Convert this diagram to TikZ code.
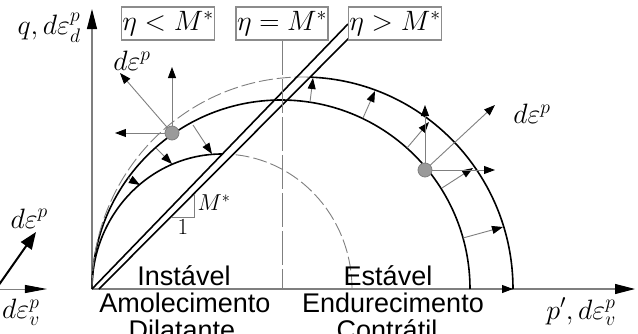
\RequirePackage{fix-cm}
\documentclass[tikz,border=0pt]{standalone}
\usepackage{amsmath}
\usepackage{fontspec}
\usetikzlibrary{arrows.meta,positioning}
\newfontfamily\labelsans{Liberation Sans}
\definecolor{axisgray}{HTML}{7F7F7F}
\definecolor{boxgray}{HTML}{8C8C8C}
\definecolor{dotgray}{HTML}{9A9A9A}

\begin{document}
\begin{tikzpicture}[x=1pt, y=1pt,
    axisline/.style={draw=axisgray, line width=1.1pt,
                 -{Triangle[length=20pt,width=10pt,color=black]}},
    yieldcurve/.style={draw=black, line width=1.6pt},
    ghostcurve/.style={draw=axisgray, line width=0.9pt, dash pattern=on 14pt off 4pt},
    ghostline/.style={draw=axisgray, line width=0.9pt, dash pattern=on 34pt off 4pt},
    flowarrow/.style={draw=axisgray, line width=0.9pt,
                 -{Triangle[length=11pt,width=8pt,color=black]}},
    thickvector/.style={draw=black, line width=2pt,
                 -{Triangle[length=17pt,width=13pt]}},
    ratiobox/.style={draw=boxgray, line width=1.6pt, fill=white, minimum width=90pt,
                 minimum height=33pt, inner sep=1pt, font=\fontsize{28}{28}\selectfont},
    regionlabel/.style={font=\labelsans\fontsize{27}{27}\selectfont, inner sep=0pt},
    mathlabel/.style={font=\fontsize{28}{28}\selectfont, inner sep=0pt},
    smalllabel/.style={font=\fontsize{23}{23}\selectfont, inner sep=0pt},
    statedot/.style={circle, fill=dotgray, draw=axisgray, line width=0.8pt,
                 minimum size=14pt, inner sep=0pt},
  ]
  \useasboundingbox (-92,-44) rectangle (546,289);
  \clip (-92,-44) rectangle (546,289);

  % inset at the left edge
  \coordinate (insetO) at (-96,0);
  \coordinate (insetX) at (-45,0);
  \coordinate (insetV) at (-56,57);
  \draw[flowarrow, -{Triangle[length=22pt,width=8pt,color=black]}] (insetO) -- (insetX);
  \draw[thickvector] (insetO) -- (insetV);
  \node[mathlabel, anchor=base east] (insetdeps) at (-44,61) {$d\varepsilon^p$};
  \node[mathlabel, anchor=north east] (insetdepsv) at (-52,-10) {$d\varepsilon_v^p$};

  % axes
  \coordinate (O) at (0,0);
  \draw[axisline] (O) -- (0,280);
  \draw[axisline] (O) -- (543,0);
  \node[mathlabel] (qlab) at (-43,261) {$q,d\varepsilon_d^p$};
  \node[mathlabel] (plab) at (489,-23) {$p',d\varepsilon_v^p$};

  % yield surfaces
  \draw[yieldcurve] (O) arc[start angle=180, end angle=0, radius=189pt];
  \draw[yieldcurve] (O) arc[start angle=180, end angle=90, x radius=130pt, y radius=135pt];
  \draw[ghostcurve] (130,0) ++(84:130pt and 135pt)
    arc[start angle=84, end angle=0, x radius=130pt, y radius=135pt];
  \draw[ghostcurve] (O) arc[start angle=180, end angle=88, x radius=210.5pt, y radius=212pt];
  \draw[yieldcurve] (210.5,0) ++(88:210.5pt and 212pt)
    arc[start angle=88, end angle=0, x radius=210.5pt, y radius=212pt];

  % critical state lines
  \draw[yieldcurve] (O) -- (256,265);
  \draw[yieldcurve] (7,0) -- (258,252);

  % slope triangle
  \draw[draw=axisgray, line width=0.9pt] (79,72) -- (102,72) -- (102,94);
  \node[smalllabel] (slopeone) at (91,62) {$1$};
  \node[smalllabel] (slopem) at (122,86) {$M^*$};

  % softening and hardening
  \foreach \xa/\ya/\xb/\yb in {36/111/48/104, 64/141/80/125, 101/164/120/135}
    \draw[flowarrow] (\xa,\ya) -- (\xb,\yb);
  \foreach \xa/\ya/\xb/\yb in {218/187/221/211, 271/171/283/198, 315/141/337/167,
                               350/101/381/121, 371/51/411/62, 378/0/421/0}
    \draw[flowarrow] (\xa,\ya) -- (\xb,\yb);

  % plastic strain increments
  \coordinate (pL) at (80,156);
  \coordinate (upL) at (80,222);
  \coordinate (leftL) at (23,156);
  \coordinate (diagL) at (28,216);
  \foreach \tip in {upL,leftL,diagL}
    \draw[flowarrow] (pL) -- (\tip);
  \node[statedot] (dotL) at (pL) {};
  \node[mathlabel] (depsL) at (40,228) {$d\varepsilon^p$};

  \coordinate (pR) at (333,119);
  \coordinate (upR) at (333,184);
  \coordinate (rightR) at (403,119);
  \coordinate (diagR) at (403,184);
  \foreach \tip in {upR,rightR,diagR}
    \draw[flowarrow] (pR) -- (\tip);
  \node[statedot] (dotR) at (pR) {};
  \node[mathlabel] (depsR) at (440,175) {$d\varepsilon^p$};

  % stress ratio boxes
  \node[ratiobox] (ltbox) at (76,265.5) {$\eta<M^*$};
  \node[ratiobox] (eqbox) at (190,265.5) {$\eta=M^*$};
  \node[ratiobox] (gtbox) at (303,265.5) {$\eta>M^*$};
  \draw[ghostline] (eqbox.south) -- (eqbox.south |- O);

  % regions
  \node[regionlabel, anchor=base] (unstable) at (92,4) {Instável};
  \node[regionlabel, anchor=base] (soften) at (93,-23) {Amolecimento};
  \node[regionlabel, anchor=base] (dilate) at (90,-50) {Dilatante};
  \node[regionlabel, anchor=base] (stable) at (296,4) {Estável};
  \node[regionlabel, anchor=base] (harden) at (301,-23) {Endurecimento};
  \node[regionlabel, anchor=base] (contract) at (295,-50) {Contrátil};
\end{tikzpicture}
\end{document}
